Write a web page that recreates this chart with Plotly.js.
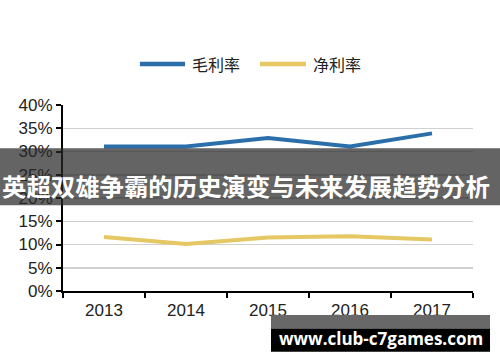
<!DOCTYPE html>
<html>
<head>
<meta charset="utf-8">
<script src="https://cdn.plot.ly/plotly-3.0.1.min.js"></script>
<style>html,body{margin:0;padding:0;background:#fff;}#chart{width:500px;height:362px;}</style>
</head>
<body>
<div id="chart"></div>
<script>
const years = ['2013', '2014', '2015', '2016', '2017'];
const grossMargin = [0.311, 0.311, 0.329, 0.311, 0.339];
const netMargin = [0.116, 0.101, 0.115, 0.118, 0.111];
const seriesNames = ['毛利率', '净利率'];
const seriesColors = ['#2A6EAA', '#E5C763'];
const yTickVals = [0, 0.05, 0.10, 0.15, 0.20, 0.25, 0.30, 0.35, 0.40];
const bannerText = '英超双雄争霸的历史演变与未来发展趋势分析';
const watermarkText = 'www.club-c7games.com';

const traces = [
  {x: years, y: grossMargin, name: seriesNames[0], type: 'scatter', mode: 'lines',
   line: {color: seriesColors[0], width: 4}},
  {x: years, y: netMargin, name: seriesNames[1], type: 'scatter', mode: 'lines',
   line: {color: seriesColors[1], width: 4}}
];

// legend drawn as shapes + annotations (positions in paper units)
const legendY = 1.22;
const legendItems = [
  {x0: 0.1878, x1: 0.2976, tx: 0.3098},
  {x0: 0.4805, x1: 0.5927, tx: 0.6049}
];
const legendShapes = legendItems.map((it, i) => ({
  type: 'line', xref: 'paper', yref: 'paper', x0: it.x0, x1: it.x1, y0: legendY, y1: legendY,
  line: {color: seriesColors[i], width: 4.5}, layer: 'above'
}));
const legendLabels = legendItems.map((it, i) => ({
  text: seriesNames[i], xref: 'paper', yref: 'paper', x: it.tx, y: legendY,
  xanchor: 'left', yanchor: 'middle', showarrow: false,
  font: {family: 'Noto Sans CJK SC', size: 16, color: '#222'}
}));

const layout = {
  width: 500, height: 362,
  margin: {l: 63, r: 27, t: 104.5, b: 71},
  paper_bgcolor: '#fff', plot_bgcolor: '#fff',
  font: {family: 'Liberation Sans, Arial, sans-serif', color: '#222', size: 17},
  showlegend: false,
  xaxis: {type: 'category', tickson: 'boundaries', ticks: 'outside', ticklen: 5,
          tickwidth: 2, tickcolor: '#000', showline: true, linecolor: '#000', linewidth: 2,
          showgrid: false, range: [-0.5, 4.5], fixedrange: true, ticklabelstandoff: 3,
          tickfont: {size: 17, color: '#222'}},
  yaxis: {range: [0, 0.4], tickvals: yTickVals, tickformat: '.0%', ticks: 'outside',
          ticklen: 5, tickwidth: 2, tickcolor: '#000', showline: true, linecolor: '#000',
          linewidth: 2, showgrid: true, gridcolor: '#d0d0d0', gridwidth: 1.5,
          zeroline: false, fixedrange: true, tickfont: {size: 17, color: '#222'}},
  shapes: legendShapes.concat([
    {type: 'rect', xref: 'paper', yref: 'paper', x0: -0.16, x1: 1.07, y0: 0.461, y1: 0.767,
     fillcolor: 'rgba(40,40,40,0.72)', line: {width: 0}, layer: 'above'},
    {type: 'rect', xref: 'paper', yref: 'paper', x0: 0.5073, x1: 1.0415, y0: -0.2021, y1: -0.1287,
     fillcolor: '#686868', line: {width: 0}, layer: 'above'},
    {type: 'rect', xref: 'paper', yref: 'paper', x0: 0.5073, x1: 1.0415, y0: -0.327, y1: -0.2021,
     fillcolor: '#000', line: {width: 0}, layer: 'above'}
  ]),
  annotations: legendLabels.concat([
    {text: '<b>' + bannerText + '</b>', xref: 'paper', yref: 'paper', x: 0.4463, y: 0.568,
     xanchor: 'center', yanchor: 'middle', showarrow: false,
     font: {family: 'Noto Sans CJK SC', size: 24.4, color: '#fff'}},
    {text: '<b>' + watermarkText + '</b>', xref: 'paper', yref: 'paper', x: 0.7744, y: -0.255,
     xanchor: 'center', yanchor: 'middle', showarrow: false,
     font: {family: 'Open Sans', size: 17, color: '#fff'}}
  ])
};

Plotly.newPlot('chart', traces, layout, {displayModeBar: false, staticPlot: true});
</script>
</body>
</html>
